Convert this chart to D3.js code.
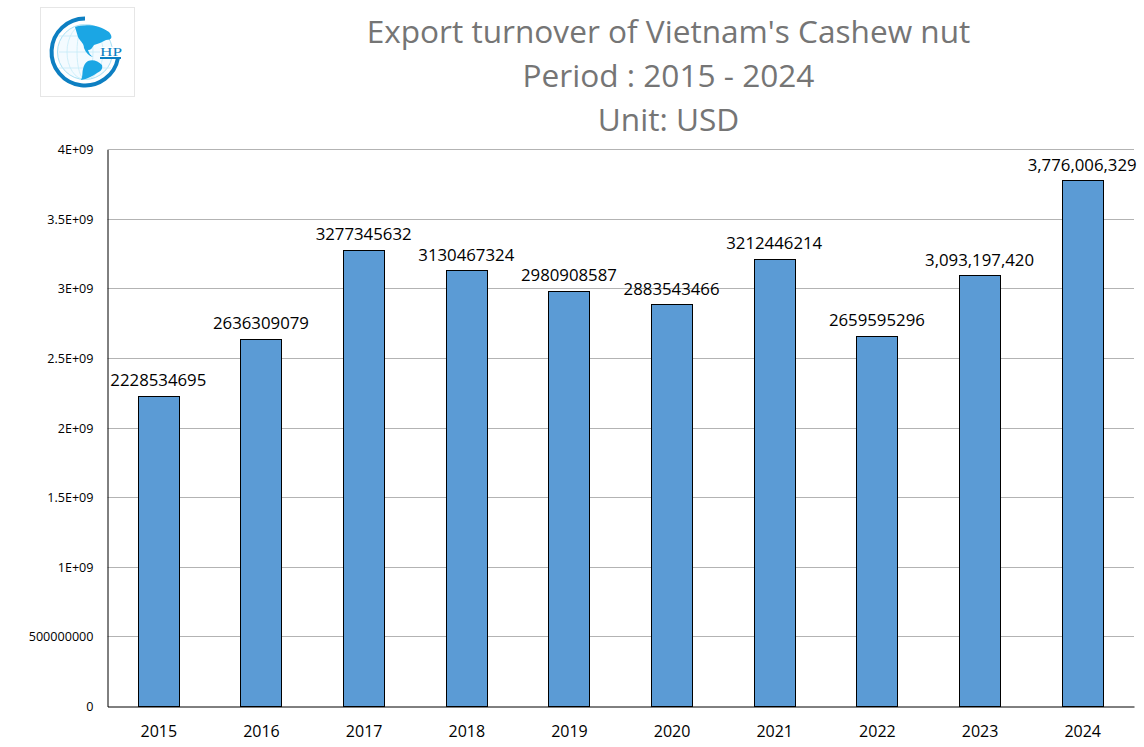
<!DOCTYPE html>
<html>
<head>
<meta charset="utf-8">
<script src="https://cdn.jsdelivr.net/npm/d3@7"></script>
<style>
  html, body { margin: 0; padding: 0; background: #fff; }
  svg { display: block; font-family: "Open Sans", "Noto Sans", sans-serif; }
</style>
</head>
<body>
<svg id="chart" width="1144" height="747"></svg>
<script>
var years = ['2015', '2016', '2017', '2018', '2019', '2020', '2021', '2022', '2023', '2024'];
var turnover = [2228534695, 2636309079, 3277345632, 3130467324, 2980908587, 2883543466, 3212446214, 2659595296, 3093197420, 3776006329];
var barLabels = ['2228534695', '2636309079', '3277345632', '3130467324', '2980908587', '2883543466', '3212446214', '2659595296', '3,093,197,420', '3,776,006,329'];
var yTicks = [0, 5e8, 1e9, 1.5e9, 2e9, 2.5e9, 3e9, 3.5e9, 4e9];
var yTickLabels = ['0', '500000000', '1E+09', '1.5E+09', '2E+09', '2.5E+09', '3E+09', '3.5E+09', '4E+09'];
var titleLines = ["Export turnover of Vietnam's Cashew nut", 'Period : 2015 - 2024', 'Unit: USD'];

var svg = d3.select('#chart');

var x = d3.scaleBand().domain(years).range([107.5, 1134]).paddingInner(0.6).paddingOuter(0.3);
var y = d3.scaleLinear().domain([0, 4e9]).range([706.5, 149.5]);

// snap bar edges to whole pixels so the outlines stay crisp
function snap(v) { return Math.round(v - 0.5) + 0.5; }

// title
svg.selectAll('.title')
    .data(titleLines)
  .enter()
    .append('text')
    .attr('class', 'title')
    .attr('x', 668.5)
    .attr('y', function(d, i) { return 43 + i * 44; })
    .attr('text-anchor', 'middle')
    .attr('font-size', 31.6)
    .attr('fill', '#757575')
    .text(function(d) { return d; });

// gridlines
svg.selectAll('.grid')
    .data(yTicks.slice(1))
  .enter()
    .append('line')
    .attr('class', 'grid')
    .attr('x1', 107.5)
    .attr('x2', 1134)
    .attr('y1', function(d) { return snap(y(d)); })
    .attr('y2', function(d) { return snap(y(d)); })
    .attr('stroke', '#b3b3b3')
    .attr('stroke-width', 1);

// bars
svg.selectAll('.bar')
    .data(turnover)
  .enter()
    .append('rect')
    .attr('class', 'bar')
    .attr('x', function(d, i) { return snap(x(years[i])); })
    .attr('width', Math.round(x.bandwidth()))
    .attr('y', function(d) { return snap(y(d)); })
    .attr('height', function(d) { return y(0) - snap(y(d)); })
    .attr('fill', '#5b9bd5')
    .attr('stroke', '#000')
    .attr('stroke-width', 1);

// bar labels
svg.selectAll('.bar-label')
    .data(turnover)
  .enter()
    .append('text')
    .attr('class', 'bar-label')
    .attr('x', function(d, i) { return x(years[i]) + x.bandwidth() / 2 - 0.5; })
    .attr('y', function(d) { return y(d) - 10; })
    .attr('text-anchor', 'middle')
    .attr('font-size', 16.8)
    .attr('fill', '#000')
    .text(function(d, i) { return barLabels[i]; });

// axes
var yAxis = d3.axisLeft(y)
    .tickValues(yTicks)
    .tickSize(0)
    .tickPadding(14)
    .tickFormat(function(d, i) { return yTickLabels[i]; });

var xAxis = d3.axisBottom(x).tickSize(0).tickPadding(19);

var yGroup = svg.append('g').attr('transform', 'translate(107.5,0)').call(yAxis);
var xGroup = svg.append('g').attr('transform', 'translate(0,706.5)').call(xAxis);

yGroup.attr('font-family', null);
xGroup.attr('font-family', null);
yGroup.selectAll('text').attr('font-size', 12.6).attr('fill', '#000');
xGroup.selectAll('text').attr('font-size', 16).attr('fill', '#000');
yGroup.select('.domain').attr('stroke', '#000').attr('stroke-width', 1);
xGroup.select('.domain').attr('stroke', '#000').attr('stroke-width', 1);

// logo
var logo = svg.append('g');

logo.append('rect')
    .attr('x', 40.5).attr('y', 7.5).attr('width', 94).attr('height', 89)
    .attr('fill', '#fff').attr('stroke', '#e6e6e6');

var globe = logo.append('g').attr('transform', 'translate(85,52)');

globe.append('circle').attr('r', 27.5).attr('fill', '#f4fbff').attr('stroke', '#a8e0f5').attr('stroke-width', 1);
[8, 18].forEach(function(rx) {
    globe.append('ellipse').attr('rx', rx).attr('ry', 27.5).attr('fill', 'none').attr('stroke', '#c5ebf8').attr('stroke-width', 0.8);
});
[-16, 0, 16].forEach(function(dy) {
    globe.append('line').attr('x1', -26).attr('x2', 26).attr('y1', dy).attr('y2', dy).attr('stroke', '#c5ebf8').attr('stroke-width', 0.8);
});

// continents, north and south america
globe.append('path')
    .attr('d', 'M-10,-25 C-2,-28 14,-28 24,-20 C28,-15 27,-12 21,-12 C17,-10 13,-8 9,-7 C7,-4 6,-2 3,-2 C4,1 5,3 8,5 C4,4 1,1 -1,-4 C-1,-9 -5,-11 -7,-15 Z')
    .attr('fill', '#1ba6e4');
globe.append('path')
    .attr('d', 'M3,9 C8,7 13,9 17,13 C18,17 16,19 12,21 C8,24 2,27 -4,28 C-2,24 -3,21 -2,17 C-1,13 0,11 3,9 Z')
    .attr('fill', '#1ba6e4');

// the G ring around the globe
globe.append('path')
    .attr('d', 'M0,-33.5 A33.5,33.5 0 1 0 33,6')
    .attr('fill', 'none')
    .attr('stroke', '#0d7fc2')
    .attr('stroke-width', 4);
globe.append('path')
    .attr('d', 'M15,6 L36,6')
    .attr('fill', 'none')
    .attr('stroke', '#0d7fc2')
    .attr('stroke-width', 2);

globe.append('rect')
    .attr('x', 15).attr('y', -5).attr('width', 22).attr('height', 10)
    .attr('fill', '#fff');

globe.append('text')
    .attr('x', 26).attr('y', 4)
    .attr('text-anchor', 'middle')
    .attr('font-family', 'Liberation Serif')
    .attr('font-size', 13)
    .attr('textLength', 22)
    .attr('lengthAdjust', 'spacingAndGlyphs')
    .attr('fill', '#0d7fc2')
    .text('HP');
</script>
</body>
</html>
